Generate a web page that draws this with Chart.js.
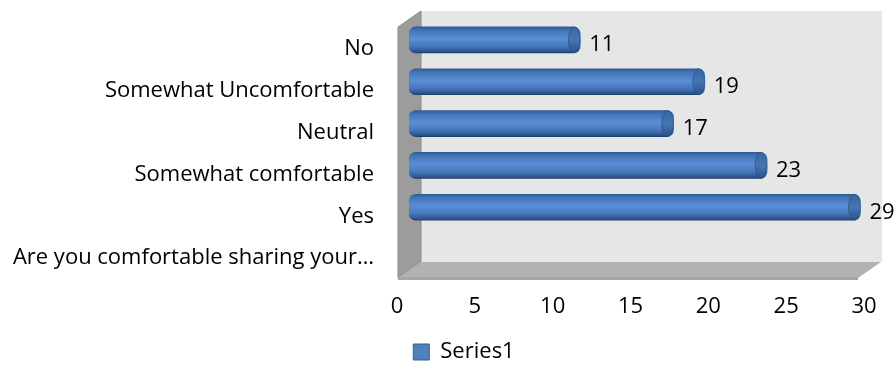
<!DOCTYPE html>
<html>
<head>
<meta charset="utf-8">
<script src="https://cdn.jsdelivr.net/npm/chart.js@4/dist/chart.umd.min.js"></script>
<style>
  html, body { margin: 0; padding: 0; background: #fff; }
  #wrap { width: 896px; height: 383px; }
</style>
</head>
<body>
<div id="wrap"><canvas id="chart"></canvas></div>
<script>
// datos del grafico
const categories = ['No', 'Somewhat Uncomfortable', 'Neutral', 'Somewhat comfortable', 'Yes', 'Are you comfortable sharing your…'];
const series1 = [11, 19, 17, 23, 29, null];
const xTicks = [0, 5, 10, 15, 20, 25, 30];
const seriesName = 'Series1';

const FONT = "'Open Sans', sans-serif";
const FONT_SIZE = 22;

// caja 3D (paredes y piso) detras de las barras
const box3d = {
    id: 'box3d',
    beforeDatasetsDraw(chart) {
        const { ctx, chartArea: a } = chart;
        const x0 = a.left - 11, x1 = a.right - 18;
        const y0 = a.top + 8, y1 = a.bottom + 8;
        const dx = 23, dy = -16;
        ctx.save();
        // pared del fondo
        ctx.fillStyle = '#e6e6e6';
        ctx.fillRect(x0 + dx, y0 + dy, x1 - x0 + 1, y1 - y0);
        // pared lateral
        ctx.fillStyle = '#9c9c9c';
        ctx.beginPath();
        ctx.moveTo(x0, y0);
        ctx.lineTo(x0 + dx, y0 + dy);
        ctx.lineTo(x0 + dx, y1 + dy);
        ctx.lineTo(x0, y1);
        ctx.closePath();
        ctx.fill();
        ctx.strokeStyle = '#8a8a8a';
        ctx.lineWidth = 1;
        ctx.stroke();
        // piso
        ctx.fillStyle = '#b2b2b2';
        ctx.beginPath();
        ctx.moveTo(x0, y1);
        ctx.lineTo(x0 + dx, y1 + dy);
        ctx.lineTo(x1 + dx, y1 + dy);
        ctx.lineTo(x1, y1);
        ctx.closePath();
        ctx.fill();
        ctx.fillStyle = '#a6a6a6';
        ctx.fillRect(x0, y1 - 1, x1 - x0, 3);
        ctx.restore();
    }
};

// tapas de los cilindros y etiquetas de valor
const capsAndLabels = {
    id: 'capsAndLabels',
    afterDatasetsDraw(chart) {
        const { ctx } = chart;
        const meta = chart.getDatasetMeta(0);
        ctx.save();
        meta.data.forEach((bar, i) => {
            const v = series1[i];
            if (v === null || v === undefined) return;
            const h = bar.height / 2;
            const g = ctx.createLinearGradient(0, bar.y - h, 0, bar.y + h);
            g.addColorStop(0, '#3a66a0');
            g.addColorStop(0.5, '#4575b4');
            g.addColorStop(1, '#2b5188');
            ctx.fillStyle = g;
            ctx.beginPath();
            ctx.ellipse(bar.x - 6, bar.y, 6, h, 0, 0, Math.PI * 2);
            ctx.fill();
            ctx.strokeStyle = 'rgba(40,75,125,0.6)';
            ctx.lineWidth = 1;
            ctx.stroke();

            ctx.fillStyle = '#000';
            ctx.font = FONT_SIZE + 'px ' + FONT;
            ctx.textAlign = 'left';
            ctx.textBaseline = 'middle';
            ctx.fillText(String(v), bar.x + 9, bar.y + 5);
        });
        ctx.restore();
    }
};

// mover la leyenda un poco a la derecha, como en el original
const legendShift = {
    id: 'legendShift',
    afterLayout(chart) {
        if (chart.legend) {
            chart.legend.left += 26;
            chart.legend.right += 26;
        }
    }
};

const chart = new Chart(document.getElementById('chart'), {
    type: 'bar',
    data: {
        labels: categories,
        datasets: [{
            label: seriesName,
            data: series1,
            barThickness: 26,
            borderRadius: 7,
            borderSkipped: false,
            borderWidth: 0,
            backgroundColor: function(context) {
                if (context.type !== 'data') return '#4f81bd';
                const c = context.chart;
                if (!c.chartArea || !c.scales.y) return '#4f81bd';
                const yc = c.scales.y.getPixelForValue(context.dataIndex);
                const g = c.ctx.createLinearGradient(0, yc - 13, 0, yc + 13);
                g.addColorStop(0, '#2f5a94');
                g.addColorStop(0.12, '#4273b6');
                g.addColorStop(0.45, '#5a8fd6');
                g.addColorStop(0.75, '#4677ba');
                g.addColorStop(0.92, '#2f5a94');
                g.addColorStop(1, '#223f6a');
                return g;
            }
        }]
    },
    options: {
        indexAxis: 'y',
        responsive: true,
        maintainAspectRatio: false,
        animation: false,
        layout: {
            padding: { top: 19, right: 20, bottom: 10, left: 0 }
        },
        plugins: {
            legend: {
                position: 'bottom',
                labels: {
                    boxWidth: 16,
                    boxHeight: 16,
                    padding: 10,
                    color: '#000',
                    font: { family: FONT, size: FONT_SIZE },
                    generateLabels: function(c) {
                        return [{
                            text: seriesName,
                            fillStyle: '#4f81bd',
                            strokeStyle: '#385d8a',
                            lineWidth: 1,
                            datasetIndex: 0
                        }];
                    }
                }
            },
            tooltip: { enabled: false }
        },
        scales: {
            x: {
                min: xTicks[0],
                max: xTicks[xTicks.length - 1],
                grid: { display: false, drawTicks: false },
                border: { display: false },
                ticks: {
                    stepSize: xTicks[1] - xTicks[0],
                    color: '#000',
                    font: { family: FONT, size: FONT_SIZE },
                    padding: 24,
                    labelOffset: -12,
                    maxRotation: 0
                },
                afterFit: function(scale) {
                    scale.height = 61;
                    scale.paddingLeft = 0;
                    scale.paddingRight = 0;
                }
            },
            y: {
                grid: { display: false, drawTicks: false },
                border: { display: false },
                ticks: {
                    color: '#000',
                    font: { family: FONT, size: FONT_SIZE },
                    padding: 35,
                    labelOffset: 9,
                    autoSkip: false
                },
                afterFit: function(scale) {
                    scale.width = 409;
                    scale.paddingTop = 0;
                    scale.paddingBottom = 0;
                }
            }
        }
    },
    plugins: [box3d, capsAndLabels, legendShift]
});
</script>
</body>
</html>
